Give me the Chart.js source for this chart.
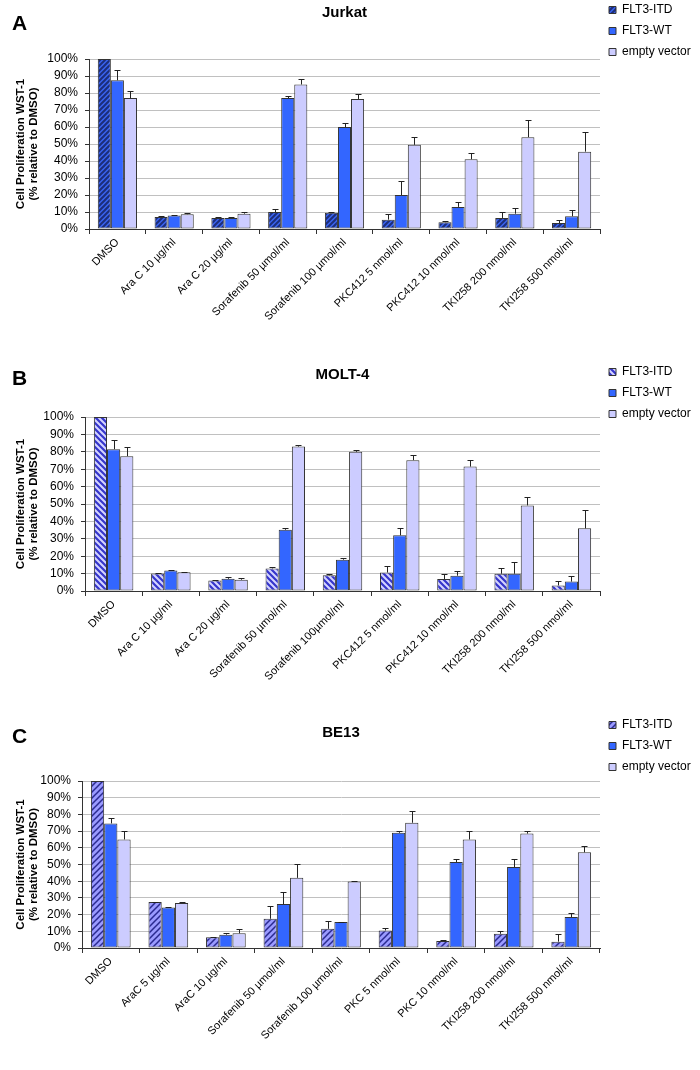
<!DOCTYPE html>
<html>
<head>
<meta charset="utf-8">
<script src="https://cdn.jsdelivr.net/npm/chart.js@4.4.0/dist/chart.umd.min.js"></script>
<style>
  body { margin: 0; background: #fff; width: 700px; height: 1070px; position: relative; overflow: hidden; }
  canvas { position: absolute; left: 0; }
  .letter { position: absolute; left: 12px; font: bold 21px "Liberation Sans", Arial, sans-serif; line-height: 1; }
</style>
</head>
<body>
<canvas id="chartA" width="700" height="345" style="top:-5px"></canvas>
<canvas id="chartB" width="700" height="370" style="top:340px"></canvas>
<canvas id="chartC" width="700" height="360" style="top:710px"></canvas>
<div class="letter" style="top:12px">A</div>
<div class="letter" style="top:367px">B</div>
<div class="letter" style="top:725px">C</div>
<script>
// series names (same for all three panels)
const seriesNames = ['FLT3-ITD', 'FLT3-WT', 'empty vector'];
const yAxisTitle = ['Cell Proliferation WST-1', '(% relative to DMSO)'];

// A - Jurkat
const jurkatLabels = ['DMSO', 'Ara C 10 µg/ml', 'Ara C 20 µg/ml', 'Sorafenib 50 µmol/ml', 'Sorafenib 100 µmol/ml',
  'PKC412 5 nmol/ml', 'PKC412 10 nmol/ml', 'TKI258 200 nmol/ml', 'TKI258 500 nmol/ml'];
const jurkatItd = [100, 7, 6.5, 10, 9.5, 5.5, 4, 6.5, 3.5];
const jurkatItdErr = [0, 0.5, 0.5, 1.5, 0.5, 3.5, 0.5, 3.5, 2];
const jurkatWt = [87.5, 8, 6.5, 77, 60, 20, 13, 9, 7.5];
const jurkatWtErr = [6, 0.5, 0.5, 1, 2.5, 8, 3, 3.5, 3.5];
const jurkatEv = [77, 8.7, 9, 85, 76.5, 49.5, 41, 54, 45.5];
const jurkatEvErr = [4, 0.5, 1, 3.5, 3, 4.5, 4, 10, 11.5];

// B - MOLT-4
const moltLabels = ['DMSO', 'Ara C 10 µg/ml', 'Ara C 20 µg/ml', 'Sorafenib 50 µmol/ml', 'Sorafenib 100µmol/ml',
  'PKC412 5 nmol/ml', 'PKC412 10 nmol/ml', 'TKI258 200 nmol/ml', 'TKI258 500 nmol/ml'];
const moltItd = [100, 10, 6, 13, 9, 10.6, 6.9, 9.9, 3.2];
const moltItdErr = [0, 0.3, 0.3, 1, 0.7, 3.7, 2.6, 3.5, 2.8];
const moltWt = [81.5, 11.8, 7, 35.2, 18, 32, 8.8, 9.9, 5.4];
const moltWtErr = [5.5, 0.5, 1, 1, 1, 4.3, 2.7, 7, 3.4];
const moltEv = [77.5, 10.8, 6.5, 83, 80, 75.2, 71.5, 49.2, 36];
const moltEvErr = [5, 0.3, 1, 1, 1, 2.8, 3.7, 5, 10.5];

// C - BE13
const be13Labels = ['DMSO', 'AraC 5 µg/ml', 'AraC 10 µg/ml', 'Sorafenib 50 µmol/ml', 'Sorafenib 100 µmol/ml',
  'PKC 5 nmol/ml', 'PKC 10 nmol/ml', 'TKI258 200 nmol/ml', 'TKI258 500 nmol/ml'];
const be13Itd = [100, 27.5, 6.5, 17.5, 11.5, 10.5, 4.2, 8.5, 3.8];
const be13ItdErr = [0, 0.3, 0.3, 7.5, 4.7, 1.2, 0.4, 1.5, 4.7];
const be13Wt = [74.6, 24.3, 8, 26.3, 15.5, 69, 51.5, 48.5, 18.5];
const be13WtErr = [3.2, 0.3, 1.2, 7, 0.3, 1, 2, 5, 2.5];
const be13Ev = [65, 27, 8.8, 42, 39.8, 75, 65, 68.5, 57.3];
const be13EvErr = [5.2, 0.3, 2.8, 8.4, 0.2, 7, 5.2, 1.5, 3.8];

const FONT = '"Liberation Sans", Arial, sans-serif';
const wtColor = '#3366ff';
const evColor = '#ccccff';

// diagonal hatch fill for the FLT3-ITD bars
function hatch(bg, fg, dir, size, lw) {
  const c = document.createElement('canvas');
  c.width = size; c.height = size;
  const g = c.getContext('2d');
  g.fillStyle = bg;
  g.fillRect(0, 0, size, size);
  g.strokeStyle = fg;
  g.lineWidth = lw;
  g.beginPath();
  if (dir === '/') {
    g.moveTo(-1, size + 1); g.lineTo(size + 1, -1);
    g.moveTo(-1, 1); g.lineTo(1, -1);
    g.moveTo(size - 1, size + 1); g.lineTo(size + 1, size - 1);
  } else {
    g.moveTo(-1, -1); g.lineTo(size + 1, size + 1);
    g.moveTo(size - 1, -1); g.lineTo(size + 1, 1);
    g.moveTo(-1, size - 1); g.lineTo(1, size + 1);
  }
  g.stroke();
  return g.createPattern(c, 'repeat');
}

// upward error bars with a cap
const errorBars = {
  id: 'errorBars',
  afterDatasetsDraw(chart) {
    const ctx = chart.ctx;
    const y = chart.scales.y;
    ctx.save();
    ctx.strokeStyle = '#222';
    ctx.lineWidth = 1;
    chart.data.datasets.forEach((ds, i) => {
      chart.getDatasetMeta(i).data.forEach((bar, j) => {
        const e = ds.errors[j];
        if (!e) return;
        const x = Math.round(bar.x) + 0.5;
        const y0 = y.getPixelForValue(ds.data[j]);
        const y1 = Math.round(y.getPixelForValue(ds.data[j] + e)) + 0.5;
        ctx.beginPath();
        ctx.moveTo(x, y0);
        ctx.lineTo(x, y1);
        ctx.moveTo(x - 3, y1);
        ctx.lineTo(x + 3, y1);
        ctx.stroke();
      });
    });
    ctx.restore();
  }
};

const panels = [
  { id: 'chartA', title: 'Jurkat', labels: jurkatLabels,
    values: [jurkatItd, jurkatWt, jurkatEv], errors: [jurkatItdErr, jurkatWtErr, jurkatEvErr],
    itd: hatch('#3a64f0', '#1c2d7a', '/', 5, 2),
    layoutTop: 0, titleTop: 9, titleBottom: 37, yWidth: 89, xHeight: 111 },
  { id: 'chartB', title: 'MOLT-4', labels: moltLabels,
    values: [moltItd, moltWt, moltEv], errors: [moltItdErr, moltWtErr, moltEvErr],
    itd: hatch('#d4d4ff', '#3535cc', '\\', 6, 2.2),
    layoutTop: 17, titleTop: 9, titleBottom: 33, yWidth: 85, xHeight: 119 },
  { id: 'chartC', title: 'BE13', labels: be13Labels,
    values: [be13Itd, be13Wt, be13Ev], errors: [be13ItdErr, be13WtErr, be13EvErr],
    itd: hatch('#9a9aff', '#2a2a90', '/', 6, 1.5),
    layoutTop: 0, titleTop: 14, titleBottom: 39, yWidth: 82, xHeight: 122 }
];

panels.forEach(p => {
  new Chart(document.getElementById(p.id), {
    type: 'bar',
    data: {
      labels: p.labels,
      datasets: seriesNames.map((name, k) => ({
        label: name,
        data: p.values[k],
        errors: p.errors[k],
        backgroundColor: [p.itd, wtColor, evColor][k],
        borderColor: '#333',
        borderWidth: 1,
        borderSkipped: false,
        barPercentage: 1,
        categoryPercentage: 0.69
      }))
    },
    options: {
      responsive: false,
      animation: false,
      layout: { padding: { top: p.layoutTop, left: 0, right: 0, bottom: 0 } },
      plugins: {
        title: {
          display: true, text: p.title, fullSize: false, color: '#000',
          font: { family: FONT, size: 15, weight: 'bold', lineHeight: 1.2 },
          padding: { top: p.titleTop, bottom: p.titleBottom }
        },
        legend: {
          position: 'right', align: 'start', maxWidth: 100,
          labels: { boxWidth: 7, boxHeight: 7, padding: 9, color: '#000', font: { family: FONT, size: 12 } }
        },
        tooltip: { enabled: false }
      },
      scales: {
        x: {
          grid: { display: true, drawOnChartArea: false, drawTicks: true, tickLength: 5, color: '#333', offset: true },
          border: { color: '#333' },
          ticks: { maxRotation: 45, minRotation: 45, autoSkip: false, color: '#000', font: { family: FONT, size: 11 }, padding: 2 },
          afterFit: s => { s.height = p.xHeight; }
        },
        y: {
          min: 0, max: 100,
          ticks: { stepSize: 10, autoSkip: false, callback: v => v + '%', color: '#000', font: { family: FONT, size: 12 }, padding: 7 },
          grid: { color: '#c0c0c0', tickColor: '#333', tickLength: 4 },
          border: { color: '#333' },
          title: {
            display: true, text: yAxisTitle, color: '#000',
            font: { family: FONT, size: 11.5, weight: 'bold', lineHeight: 1.17 },
            padding: { top: 14, bottom: 0 }
          },
          afterFit: s => { s.width = p.yWidth; }
        }
      }
    },
    plugins: [errorBars]
  });
});
</script>
</body>
</html>
